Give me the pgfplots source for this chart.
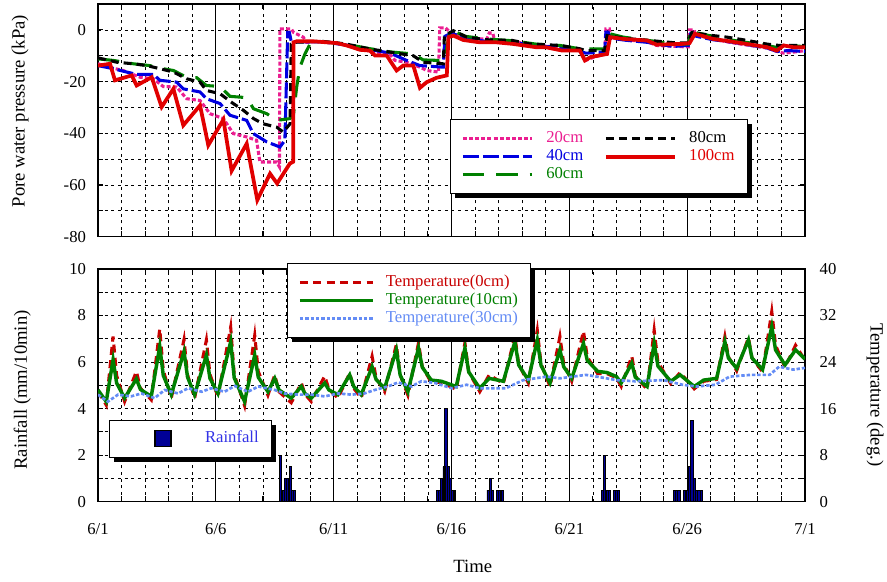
\documentclass[border=0pt]{standalone}
\usepackage{fontspec}
\setmainfont{Liberation Serif}
\usepackage{pgfplots}
\pgfplotsset{compat=1.18}
\usetikzlibrary{shadows}
\makeatletter
\tikzset{nopreact/.code={\let\tikz@preactions\pgfutil@empty}}
\makeatother
\definecolor{cpink}{RGB}{235,30,145}
\definecolor{cblue}{RGB}{0,0,225}
\definecolor{cgreen}{RGB}{0,128,0}
\definecolor{cred}{RGB}{225,0,0}
\definecolor{tred}{RGB}{200,0,0}
\definecolor{tlblue}{RGB}{100,140,245}
\definecolor{rainblue}{RGB}{0,0,150}
\definecolor{raintext}{RGB}{50,50,230}
\pgfplotsset{
  myaxis/.style={
    scale only axis, width=530.25pt, height=174.5pt,
    xmin=0, xmax=30, xtick={0,5,...,30}, minor xtick={1,2,3,4,6,7,8,9,11,12,13,14,16,17,18,19,21,22,23,24,26,27,28,29},
    grid=both,
    major x grid style={black, line width=0.6pt},
    minor x grid style={black, line width=0.6pt, dash pattern=on 2.2pt off 2.8pt},
    major y grid style={black, line width=0.6pt, dash pattern=on 2.2pt off 2.8pt},
    minor y grid style={black, line width=0.6pt, dash pattern=on 2.2pt off 2.8pt},
    tick align=inside, major tick length=4pt, minor tick length=4pt,
    every tick/.style={black, line width=0.8pt},
    axis line style={line width=1pt},
    ticklabel style={font=\fontsize{12.5}{14}\selectfont},
    label style={font=\fontsize{14}{16}\selectfont},
    /pgf/number format/assume math mode=true,
    yticklabel style={xshift=-5.5pt},
  },
  mylegend/.style={
    legend style={font=\fontsize{12.5}{14}\selectfont, line width=1pt, draw=black, fill=white,
      drop shadow={shadow xshift=3.5pt, shadow yshift=-3.5pt, fill=black, opacity=1},
      inner xsep=8pt, inner ysep=7.5pt,
      nodes={inner sep=1.5pt, text height=8pt, text depth=2.5pt},
      /tikz/every even column/.append style={column sep=14pt}},
    legend cell align=left,
  }
}
\begin{document}
\begin{tikzpicture}
\useasboundingbox (0,0) rectangle (665.25pt,435.75pt);
% ---------------- top: pore water pressure ----------------
\begin{axis}[myaxis, mylegend, at={(73.5pt,258.2pt)}, anchor=south west,
  ymin=-80, ymax=10, ytick={-80,-60,...,0}, minor ytick={-70,-50,-30,-10},
  xticklabels={},
  ylabel={Pore water pressure (kPa)},
  ylabel style={at={(axis description cs:-0.11,0.54)}, anchor=center},
  transpose legend, legend columns=3,
  legend style={at={(0.498,0.506)}, anchor=north west},
  legend image code/.code={\path[nopreact, draw=none] (0pt,0pt) -- (61pt,0pt); \draw[nopreact, #1, line cap=butt] (0pt,0pt) -- (52pt,0pt);},
]
\addplot[cpink, line width=2.3pt, dash pattern=on 3pt off 1.6pt] table {
0 -13.1
0.5 -14.5
1.07 -15.7
1.78 -18.3
2.35 -18.9
2.77 -21.9
3.34 -22.1
3.76 -26.6
4.33 -27.3
4.75 -32.4
5.32 -34.3
5.74 -40.1
6.31 -41.4
6.73 -42.7
6.87 -51.1
7.58 -51.1
7.70 -53.0
7.72 0.4
8.2 0.4
8.3 -1.0
8.71 -2.8
8.85 -4.8
9.5 -4.5
10.1 -5.0
10.55 -6.0
11.1 -7.5
11.6 -8.2
12.4 -9.5
12.6 -11.8
13.1 -12.5
13.66 -14.4
13.95 -15.7
14.45 -16.3
14.5 0.8
14.75 0.8
15.0 -1.5
15.5 -2.8
16.0 -3.5
16.5 -3.5
16.6 -1.2
16.75 -1.2
16.85 -4.8
17.6 -4.5
18.3 -5.5
19.0 -6.2
19.7 -7.3
20.45 -8.0
20.7 -11.8
20.9 -11.0
21.5 -9.3
21.55 0.4
21.7 0.4
21.75 -3.0
22.3 -3.8
23.3 -4.5
23.7 -6.0
24.8 -6.5
25.05 -6.5
25.1 0
25.3 0
25.35 -2.0
26.1 -3.5
26.8 -4.8
27.5 -5.8
28.4 -7.0
28.8 -8.3
29.1 -9.0
29.5 -8.6
30 -8.0
};
\addlegendentry{\textcolor{cpink}{20cm}}
\addplot[cblue, line width=2.3pt, dash pattern=on 12pt off 3pt] table {
0 -13.8
0.65 -15.0
1.22 -16.3
1.64 -17.2
2.35 -17.2
2.63 -19.5
3.34 -20.2
3.62 -22.8
4.33 -24.0
4.6 -26.6
5.18 -28.5
5.6 -33.0
6.31 -35.0
6.59 -40.1
7.16 -43.3
7.72 -45.3
7.93 -42.7
8.05 -1.0
8.12 -1.0
8.2 -4.5
8.3 -4.6
9.5 -4.6
10.5 -5.8
11.5 -7.5
12.4 -9.0
13.1 -11.8
13.66 -13.8
14.65 -14.4
14.72 -2.5
15.0 -1.2
15.5 -3.0
16.5 -4.5
17.6 -4.8
18.6 -6.2
19.6 -6.7
20.45 -8.3
20.7 -9.0
21.5 -8.5
21.55 -0.9
21.65 -0.9
21.75 -3.2
22.4 -4.0
23.3 -4.8
24.4 -6.4
25.05 -6.0
25.15 -1.5
25.4 -2.5
26.1 -3.8
26.8 -4.6
27.5 -5.6
28.4 -7.0
28.8 -8.3
29.3 -8.0
30 -8.3
};
\addlegendentry{\textcolor{cblue}{40cm}}
\addplot[cgreen, line width=2.3pt, dash pattern=on 16pt off 9pt] table {
0 -11.2
0.65 -11.8
1.5 -13.1
2.2 -13.8
2.77 -15.0
3.2 -15.7
3.76 -18.3
4.19 -18.5
4.6 -21.5
5.18 -21.9
5.6 -25.7
6.31 -26.2
6.6 -30.5
7.16 -32.4
7.58 -35.0
8.15 -34.3
8.3 -32.4
8.43 -22.1
8.57 -14.4
8.78 -9.3
9.0 -5.4
9.5 -4.5
10.5 -5.5
11.5 -7.2
12.4 -8.5
13.38 -9.3
13.8 -11.6
14.5 -11.8
14.7 -11.8
14.95 0.4
15.2 -0.9
15.6 -2.5
16.5 -3.5
17.6 -4.2
18.6 -5.5
19.6 -6.0
20.45 -7.3
20.66 -7.3
21.6 -7.3
21.73 -1.5
22.3 -2.8
23.3 -4.0
24.5 -5.5
25.05 -5.5
25.15 0
25.35 -1.0
26.1 -2.5
26.8 -3.8
27.5 -4.8
28.4 -6.0
28.8 -6.8
29.2 -5.8
30 -6.5
};
\addlegendentry{\textcolor{cgreen}{60cm}}
\addplot[black, line width=2.3pt, dash pattern=on 6pt off 3.8pt] table {
0 -10.8
0.8 -12.5
1.5 -13.1
2.07 -13.8
2.63 -15.0
3.2 -16.3
3.76 -18.9
4.33 -20.2
4.6 -23.4
5.18 -24.7
5.74 -28.5
6.17 -31.1
6.6 -34.3
7.0 -36.3
7.58 -37.6
7.86 -39.5
8.15 -36.3
8.2 -5.4
8.3 -4.8
9.5 -4.4
10.5 -5.4
11.5 -7.3
12.4 -8.6
13.38 -10.0
13.8 -12.5
14.65 -13.1
14.7 -2.2
15.08 -0.3
15.65 -2.8
16.5 -3.8
17.6 -4.1
18.3 -5.4
19.6 -6.0
20.45 -7.3
20.7 -8.0
21.5 -8.0
21.6 -2.2
22.3 -3.2
23.3 -4.0
24.5 -5.0
25.05 -5.0
25.2 -1.0
26.1 -2.2
26.7 -2.8
27.5 -4.0
28.4 -5.5
28.9 -6.0
30 -6.0
};
\addlegendentry{80cm}
\addplot[cred, line width=2.8pt] table {
0 -13.8
0.51 -13.1
0.72 -19.5
1.43 -17.6
1.64 -21.5
2.28 -18.3
2.70 -29.8
3.2 -22.8
3.62 -36.9
4.33 -29.2
4.68 -44.6
5.32 -34.7
5.67 -54.5
6.31 -44.0
6.76 -65.8
7.3 -55.6
7.6 -59.4
8.14 -51.7
8.28 -51.0
8.3 -4.8
8.43 -4.4
9.14 -4.4
10.13 -5.1
10.55 -6.0
11.12 -7.7
11.54 -8.0
11.75 -9.9
12.25 -9.9
12.67 -15.7
12.95 -13.8
13.38 -13.8
13.66 -22.4
13.95 -20.2
14.37 -18.5
14.8 -17.6
14.87 -2.8
15.08 -2.2
15.5 -3.9
16.2 -4.8
16.9 -4.8
17.6 -5.4
18.6 -6.7
19.0 -6.7
19.7 -8.0
20.45 -8.0
20.66 -11.8
20.9 -10.5
21.6 -9.3
21.73 -2.8
22.3 -3.5
23.3 -4.1
23.7 -5.7
24.8 -5.4
25.1 -5.1
25.33 -1.5
26.1 -3.5
26.8 -4.4
27.5 -5.4
28.4 -6.7
28.8 -8.0
29.1 -6.0
29.5 -6.7
30 -6.7
};
\addlegendentry{\textcolor{cred}{100cm}}
\end{axis}
% ---------------- bottom: rainfall ----------------
\begin{axis}[myaxis, at={(73.5pt,59.5pt)}, anchor=south west,
  ymin=0, ymax=10, ytick={0,2,...,10}, minor ytick={1,3,...,9},
  xticklabels={6/1,6/6,6/11,6/16,6/21,6/26,7/1},
  xticklabel style={yshift=-13pt},
  ylabel={Rainfall (mm/10min)},
  ylabel style={at={(axis description cs:-0.107,0.48)}, anchor=center},
  xlabel={Time},
  xlabel style={at={(axis description cs:0.53,-0.28)}, anchor=center},
  legend style={font=\fontsize{12.5}{14}\selectfont, line width=1pt, draw=black, fill=white,
      drop shadow={shadow xshift=3.5pt, shadow yshift=-3.5pt, fill=black, opacity=1},
      inner xsep=8pt, inner ysep=7pt,
      nodes={inner sep=1.5pt, text height=8pt, text depth=2.5pt},
      at={(0.0156,0.3515)}, anchor=north west},
  legend image code/.code={\path[nopreact, draw=none, fill=none] (0pt,-6pt) rectangle (62pt,6pt); \draw[nopreact, fill=rainblue, draw=black, line width=0.8pt] (26pt,-6pt) rectangle (38pt,6pt);},
]
\addplot[ybar, bar width=0.09, bar shift=0pt, fill=rainblue, draw=black, line width=0.6pt] table {
7.75 2.0
7.85 0.5
7.95 1.0
8.05 1.0
8.15 1.5
8.25 0.5
8.33 0.5
14.40 0.5
14.50 0.5
14.58 1.0
14.68 1.5
14.76 4.0
14.86 1.5
14.96 1.0
15.06 0.5
15.14 0.5
16.55 0.5
16.65 1.0
16.75 0.5
16.95 0.5
17.05 0.5
17.15 0.5
21.40 0.5
21.50 2.0
21.60 0.5
21.70 0.5
21.90 0.5
22.00 0.5
22.10 0.5
24.45 0.5
24.55 0.5
24.65 0.5
24.90 0.5
25.00 0.5
25.10 1.5
25.20 3.5
25.30 1.0
25.40 0.5
25.50 0.5
25.60 0.5
};
\addlegendentry{\textcolor{raintext}{Rainfall}}
\end{axis}
% ---------------- bottom: temperature (right axis) ----------------
\begin{axis}[mylegend, scale only axis, width=530.25pt, height=174.5pt,
  at={(73.5pt,59.5pt)}, anchor=south west,
  xmin=0, xmax=30, ymin=0, ymax=40,
  axis x line=none, axis y line*=right,
  ytick={0,8,...,40}, tick align=inside, major tick length=4pt,
  every tick/.style={black, line width=0.8pt},
  axis line style={line width=1pt},
  ticklabel style={font=\fontsize{12.5}{14}\selectfont},
  yticklabel style={xshift=7.5pt},
  /pgf/number format/assume math mode=true,
  ylabel={Temperature (deg.)},
  ylabel style={font=\fontsize{14}{16}\selectfont, at={(axis description cs:1.099,0.459)}, anchor=center, rotate=180},
  legend style={at={(0.267,1.027)}, anchor=north west},
  legend image code/.code={\path[nopreact, draw=none] (0pt,0pt) -- (63pt,0pt); \draw[nopreact, #1, line cap=butt] (0pt,0pt) -- (55pt,0pt);},
]
\addplot[tred, line width=2.3pt, dash pattern=on 6pt off 4pt] table {
0 19.0
0.35 16.6
0.64 28.4
0.79 21.7
1.13 17.2
1.63 22.4
1.8 19.5
2.26 17.5
2.62 29.7
2.77 22.6
3.11 17.8
3.65 27.9
3.8 21.8
4.1 17.8
4.6 27.8
4.75 21.9
5.09 18.0
5.63 30.0
5.78 21.9
6.22 16.5
6.65 28.6
6.8 22.4
7.21 18.3
7.5 21.8
7.68 18.9
8.2 17.0
8.63 20.4
8.78 18.5
9.05 17.2
9.62 21.6
9.8 19.3
10.18 17.8
10.68 22.1
10.85 19.5
11.17 17.8
11.63 25.0
11.8 21.3
12.16 18.9
12.66 27.0
12.82 21.8
13.15 18.3
13.6 27.3
13.76 23.2
14.14 20.5
14.57 20.5
15.2 19.3
15.57 27.3
15.73 22.3
16.2 18.9
16.6 21.8
17.2 20.3
17.69 28.5
17.85 23.6
18.26 20.4
18.64 29.5
18.8 23.7
19.18 19.8
19.6 28.4
19.76 23.8
20.1 20.7
20.6 29.3
20.76 24.9
21.2 22.0
21.6 22.0
22.0 21.3
22.2 19.8
22.65 25.0
22.8 21.6
23.3 19.3
23.6 29.5
23.76 24.0
24.3 20.3
24.7 22.2
25.3 19.4
25.7 20.7
26.25 21.0
26.6 28.4
26.75 24.9
27.1 22.5
27.6 28.2
27.75 24.7
28.2 22.3
28.59 32.7
28.75 26.9
29.15 23.1
29.6 26.9
30 24.3
};
\addlegendentry{\textcolor{tred}{Temperature(0cm)}}
\addplot[cgreen, line width=2.6pt] table {
0 19.2
0.35 17.2
0.64 24.4
0.79 20.4
1.13 17.8
1.63 21.1
1.8 19.3
2.26 18.1
2.62 26.7
2.77 21.7
3.11 18.4
3.65 25.8
3.8 21.4
4.1 18.4
4.6 25.2
4.75 21.2
5.09 18.6
5.63 27.5
5.78 21.3
6.22 17.2
6.65 25.2
6.8 21.4
7.21 18.9
7.5 21.2
7.68 19.2
8.2 17.8
8.63 19.8
8.78 18.6
9.05 17.8
9.62 20.4
9.8 19.2
10.18 18.4
10.68 21.8
10.85 19.8
11.17 18.4
11.63 23.2
11.8 21.0
12.16 19.5
12.66 26.1
12.82 21.8
13.15 18.9
13.6 26.4
13.76 23.1
14.14 20.9
14.57 20.7
15.2 19.8
15.57 26.4
15.73 22.3
16.2 19.5
16.6 21.2
17.2 20.7
17.69 27.5
17.85 23.5
18.26 20.9
18.64 27.8
18.8 23.4
19.18 20.4
19.6 26.1
19.76 23.2
20.1 21.2
20.6 27.2
20.76 24.3
21.2 22.4
21.6 22.2
22.0 21.5
22.2 20.4
22.65 23.8
22.8 21.4
23.3 19.8
23.6 27.2
23.76 23.3
24.3 20.7
24.7 21.8
25.3 19.8
25.7 20.9
26.25 21.2
26.6 27.5
26.75 24.7
27.1 22.9
27.6 27.8
27.75 24.7
28.2 22.7
28.59 30.1
28.75 26.1
29.15 23.5
29.6 26.1
30 24.5
};
\addlegendentry{\textcolor{cgreen}{Temperature(10cm)}}
\addplot[tlblue, line width=2pt, dash pattern=on 2.6pt off 1.4pt] table {
0 18.4
0.42 17.2
0.85 18.4
1.4 18.1
1.84 18.6
2.4 17.8
2.83 19.2
3.4 18.6
3.82 19.5
4.4 18.9
4.8 19.5
5.37 18.9
5.8 19.9
6.36 18.9
6.8 19.8
7.5 19.2
7.92 18.6
8.5 18.4
9.05 18.4
9.62 18.1
10.2 18.6
10.75 18.4
11.3 18.6
11.74 19.2
12.3 19.8
12.73 20.5
13.3 19.8
13.72 20.7
14.3 20.4
15.0 19.5
15.64 20.1
16.2 19.5
17.3 19.5
18.05 20.9
19.04 21.5
19.6 21.2
20.7 21.8
21.16 21.5
22.0 20.9
22.8 20.7
24.0 20.9
24.8 20.1
25.4 19.8
26.2 20.1
26.8 21.5
27.7 21.8
28.5 21.8
28.9 23.2
29.5 22.7
30 23.0
};
\addlegendentry{\textcolor{tlblue}{Temperature(30cm)}}
\end{axis}
\end{tikzpicture}
\end{document}
